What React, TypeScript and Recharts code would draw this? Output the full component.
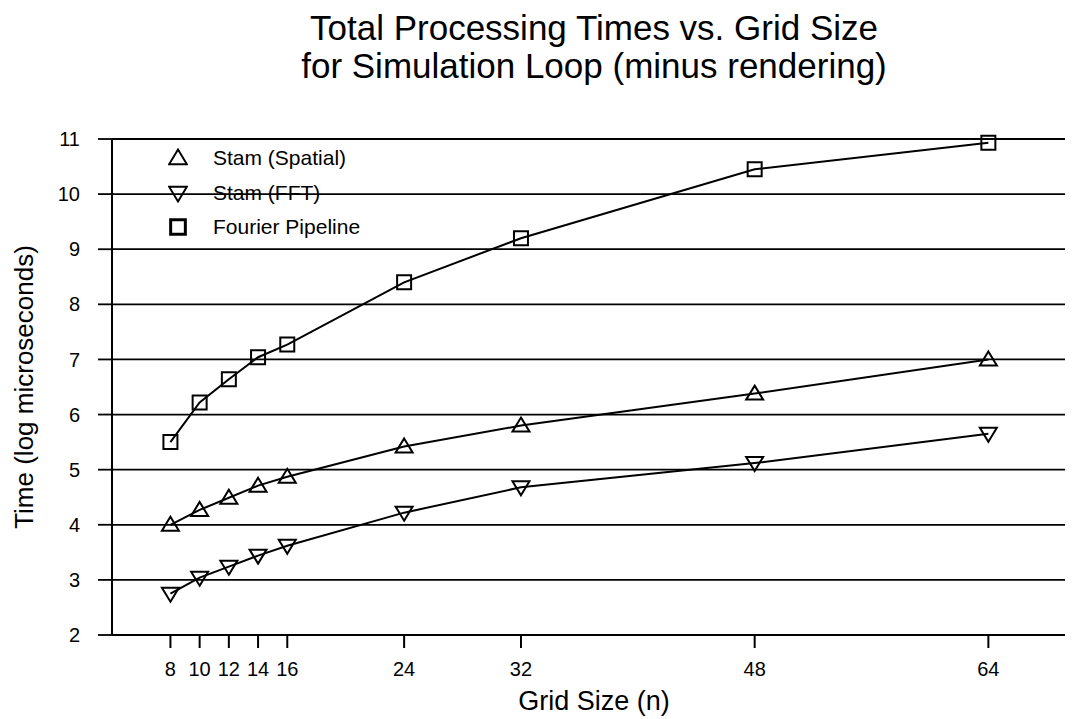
import React from 'react';
import { LineChart, Line, XAxis, YAxis, CartesianGrid } from 'recharts';

// grid sizes (n) on the x axis
const gridSizes = [8, 10, 12, 14, 16, 24, 32, 48, 64];
// times in log microseconds
const stamSpatial = [4.0, 4.27, 4.49, 4.71, 4.87, 5.42, 5.8, 6.38, 7.0];
const stamFFT = [2.75, 3.04, 3.24, 3.44, 3.62, 4.22, 4.68, 5.12, 5.65];
const fourierPipeline = [5.5, 6.22, 6.64, 7.04, 7.27, 8.4, 9.2, 10.45, 10.93];

const xTicks = [8, 10, 12, 14, 16, 24, 32, 48, 64];
const yTicks = [2, 3, 4, 5, 6, 7, 8, 9, 10, 11];

const seriesNames = ['Stam (Spatial)', 'Stam (FFT)', 'Fourier Pipeline'];

const data = gridSizes.map((n, i) => ({
  n,
  spatial: stamSpatial[i],
  fft: stamFFT[i],
  fourier: fourierPipeline[i],
}));

const FONT = '"Liberation Sans", Arial, Helvetica, sans-serif';

type Kind = 'up' | 'down' | 'square';

const markerPath = (kind: Kind, cx: number, cy: number, s = 1) => {
  if (kind === 'up') return `M${cx},${cy - 8 * s} L${cx + 8.5 * s},${cy + 6 * s} L${cx - 8.5 * s},${cy + 6 * s} Z`;
  if (kind === 'down') return `M${cx},${cy + 8 * s} L${cx + 8.5 * s},${cy - 6 * s} L${cx - 8.5 * s},${cy - 6 * s} Z`;
  return `M${cx - 7 * s},${cy - 7 * s} L${cx + 7 * s},${cy - 7 * s} L${cx + 7 * s},${cy + 7 * s} L${cx - 7 * s},${cy + 7 * s} Z`;
};

const makeDot = (kind: Kind) => (props: any) => {
  const { cx, cy, index } = props;
  if (cx == null || cy == null) return <g key={`d-${kind}-${index}`} />;
  return (
    <path key={`d-${kind}-${index}`} d={markerPath(kind, cx, cy)} fill="none" stroke="#000" strokeWidth={2} />
  );
};

const legendKinds: Kind[] = ['up', 'down', 'square'];

const YLabel = (props: any) => {
  const vb = props.viewBox || {};
  const cy = (vb.y || 0) + (vb.height || 0) / 2;
  const x = 24.5;
  return (
    <text x={x} y={cy} transform={`rotate(-90, ${x}, ${cy})`} textAnchor="middle" fontSize={26} fontFamily={FONT} fill="#000">
      Time (log microseconds)
    </text>
  );
};

export default function App() {
  return (
    <div style={{ position: 'relative', width: 1065, height: 711, overflow: 'hidden', fontFamily: FONT }}>
      <div style={{ position: 'absolute', left: 107, top: 1, width: 958, textAlign: 'center', fontSize: 35, lineHeight: '38px', color: '#000' }}>
        <div>Total Processing Times vs. Grid Size</div>
        <div>for Simulation Loop (minus rendering)</div>
      </div>
      <LineChart width={1068} height={711} data={data} margin={{ top: 131, right: 0, bottom: 0, left: 0 }}>
        <CartesianGrid vertical={false} stroke="#000" strokeWidth={1.8} />
        <XAxis
          dataKey="n"
          type="number"
          domain={[4, 70]}
          ticks={xTicks}
          interval={0}
          height={84}
          tickSize={13}
          tickMargin={14}
          axisLine={{ stroke: '#000', strokeWidth: 2 }}
          tickLine={{ stroke: '#000', strokeWidth: 2 }}
          tick={{ fill: '#000', fontSize: 20, fontFamily: FONT }}
          label={{ value: 'Grid Size (n)', position: 'insideBottom', offset: 9, fontSize: 27, fontFamily: FONT, fill: '#000' }}
        />
        <YAxis
          type="number"
          domain={[2, 11]}
          ticks={yTicks}
          interval={0}
          width={104}
          tickSize={14}
          tickMargin={18}
          axisLine={{ stroke: '#000', strokeWidth: 2 }}
          tickLine={{ stroke: '#000', strokeWidth: 1.8 }}
          tick={{ fill: '#000', fontSize: 20, fontFamily: FONT }}
          label={<YLabel />}
        />
        <Line type="linear" dataKey="spatial" name={seriesNames[0]} stroke="#000" strokeWidth={2} dot={makeDot('up')} activeDot={false} isAnimationActive={false} />
        <Line type="linear" dataKey="fft" name={seriesNames[1]} stroke="#000" strokeWidth={2} dot={makeDot('down')} activeDot={false} isAnimationActive={false} />
        <Line type="linear" dataKey="fourier" name={seriesNames[2]} stroke="#000" strokeWidth={2} dot={makeDot('square')} activeDot={false} isAnimationActive={false} />
      </LineChart>
      <div style={{ position: 'absolute', left: 160, top: 133, fontSize: 21, color: '#000' }}>
        {seriesNames.map((name, i) => (
          <div key={name} style={{ display: 'flex', alignItems: 'center', height: 34.5 }}>
            <svg width={20} height={20} style={{ marginRight: 25 }}>
              <path d={markerPath(legendKinds[i], 10, 10, 1.05)} fill="none" stroke="#000" strokeWidth={legendKinds[i] === 'square' ? 3 : 2} />
            </svg>
            <span>{name}</span>
          </div>
        ))}
      </div>
    </div>
  );
}
